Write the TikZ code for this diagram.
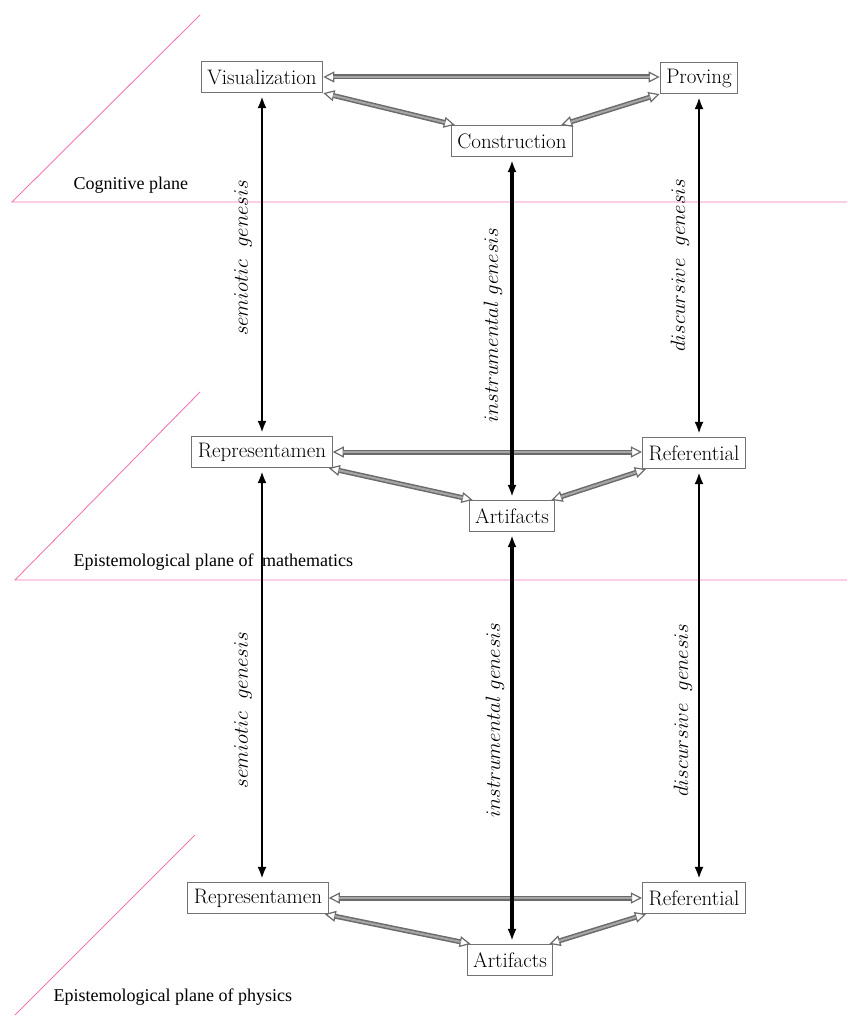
\documentclass[tikz,border=0pt]{standalone}
\usepackage{fontspec}
\newfontfamily\planefont{Liberation Serif}
\usetikzlibrary{arrows.meta}
\definecolor{pinkl}{RGB}{240,120,180}
\begin{document}
\begin{tikzpicture}[x=1pt,y=-1pt,
  box/.style={draw=black!55, line width=1.2pt, fill=white, font=\fontsize{21}{25}\selectfont, inner xsep=6pt, inner ysep=0pt, minimum height=31pt},
  garrow/.style={draw=black!58, line width=5pt, {Triangle[open,length=11pt,width=11pt,line width=1.2pt]}-{Triangle[open,length=11pt,width=11pt,line width=1.2pt]},
     postaction={draw=black!35, line width=2pt, -, shorten <=10pt, shorten >=10pt}},
  barrow/.style={line width=2.5pt, {Latex[length=12pt,width=9pt]}-{Latex[length=12pt,width=9pt]}, shorten <=3pt, shorten >=3pt},
  marrow/.style={barrow, line width=3.4pt},
  pinkline/.style={draw=pinkl, line width=0.9pt},
  gen/.style={font=\fontsize{20}{24}\selectfont, rotate=90},
  plane/.style={font=\planefont\fontsize{18}{21}\selectfont, anchor=west}
]
\useasboundingbox (0,0) rectangle (847,1016);
% planes
\draw[pinkline] (200,15) -- (12,202) -- (847,202);
\draw[pinkline] (200,392) -- (15,580) -- (847,580);
\draw[pinkline] (195,835) -- (15,1015);
\node[plane] (pc) at (70,185) {Cognitive plane};
\node[plane] (pm) at (70,562) {Epistemological plane of \hspace{4pt}mathematics};
\node[plane] (pp) at (50,997) {Epistemological plane of physics};
% boxes
\node[box] (vis) at (262,77) {Visualization};
\node[box] (prov) at (699,78) {Proving};
\node[box] (cons) at (512,141) {Construction};
\node[box] (rep1) at (262,452) {Representamen};
\node[box] (ref1) at (694,453) {Referential};
\node[box] (art1) at (512,516) {Artifacts};
\node[box] (rep2) at (258,898) {Representamen};
\node[box] (ref2) at (694,898) {Referential};
\node[box] (art2) at (510,960) {Artifacts};
% gray arrows
\draw[garrow] (vis.east) -- (vis.east -| prov.west);
\draw[garrow] (vis.south east) -- ([xshift=4pt]cons.north west);
\draw[garrow] ([xshift=-12pt]cons.north east) -- (prov.south west);
\draw[garrow] (rep1.east) -- (rep1.east -| ref1.west);
\draw[garrow] ([xshift=-4pt]rep1.south east) -- ([xshift=4pt]art1.north west);
\draw[garrow] ([xshift=-4pt]art1.north east) -- ([xshift=4pt]ref1.south west);
\draw[garrow] (rep2.east) -- (rep2.east -| ref2.west);
\draw[garrow] ([xshift=-4pt]rep2.south east) -- ([xshift=4pt]art2.north west);
\draw[garrow] ([xshift=-4pt]art2.north east) -- ([xshift=4pt]ref2.south west);
% black arrows
\draw[barrow] (vis.south) -- (vis.south |- rep1.north);
\draw[marrow] (cons.south) -- (art1.north);
\draw[barrow] (prov.south) -- (prov.south |- ref1.north);
\draw[barrow] (rep1.south) -- (rep1.south |- rep2.north);
\draw[marrow] (art1.south) -- (art1.south |- art2.north);
\draw[barrow] (prov.south |- ref1.south) -- (prov.south |- ref2.north);
% genesis labels
\node[gen] (g1) at (243,258) {$semiotic\ \ genesis$};
\node[gen] (g2) at (493,325) {$instrumental\ genesis$};
\node[gen] (g3) at (680,265) {$discursive\ \ genesis$};
\node[gen] (g4) at (243,710) {$semiotic\ \ genesis$};
\node[gen] (g5) at (495,720) {$instrumental\ genesis$};
\node[gen] (g6) at (683,710) {$discursive\ \ genesis$};
\end{tikzpicture}
\end{document}
